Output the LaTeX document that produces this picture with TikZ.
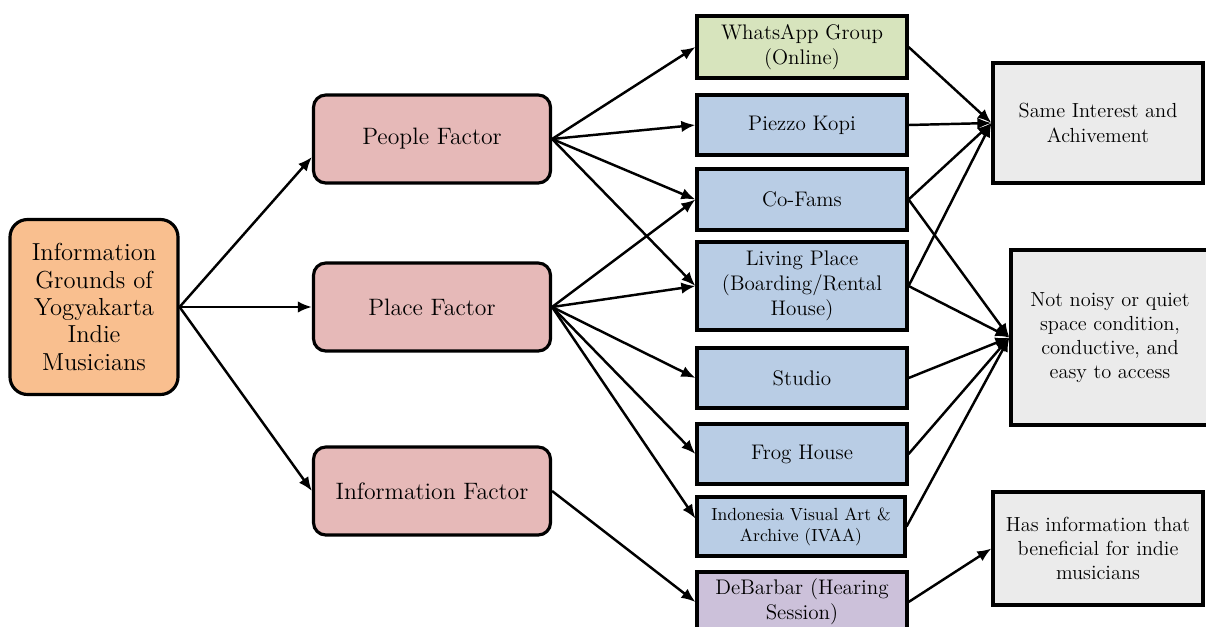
\documentclass[tikz,border=0pt]{standalone}
\usetikzlibrary{arrows.meta}

\definecolor{rootorange}{HTML}{F9BF8F}
\definecolor{factorpink}{HTML}{E6B9B8}
\definecolor{placeblue}{HTML}{B9CDE5}
\definecolor{onlinegreen}{HTML}{D7E4BD}
\definecolor{sessionpurple}{HTML}{CCC1DA}
\definecolor{resultgray}{HTML}{EBEBEB}

\tikzset{
  box/.style={draw, line width=1.8pt, align=center, inner sep=0pt},
  rootbox/.style={box, rounded corners=10pt, fill=rootorange, minimum width=3.36cm, minimum height=3.5cm, font=\fontsize{14}{15.6}\selectfont},
  factorbox/.style={box, rounded corners=7pt, fill=factorpink, minimum width=4.74cm, minimum height=1.76cm, font=\fontsize{13.5}{15.5}\selectfont},
  placebox/.style={box, fill=placeblue, minimum width=4.2cm, minimum height=1.2cm, font=\fontsize{12}{14.2}\selectfont},
  resultbox/.style={box, fill=resultgray, minimum width=4.2cm, font=\fontsize{11.6}{13.8}\selectfont},
  arr/.style={-{Latex[length=8pt,width=6.5pt]}, line width=1.4pt}
}

\begin{document}
\begin{tikzpicture}
    \useasboundingbox (0,0) rectangle (24.12,-12.52);

    % Define nodes
    \node[rootbox] (ig) at (1.88,-6.14) {Information\\Grounds of\\Yogyakarta\\Indie\\Musicians};

    \node[factorbox] (pf) at (8.64,-2.78) {People Factor};
    \node[factorbox] (plf) at (8.64,-6.14) {Place Factor};
    \node[factorbox] (if) at (8.64,-9.82) {Information Factor};

    \node[placebox, fill=onlinegreen, minimum height=1.24cm] (wa) at (16.04,-0.94) {WhatsApp Group\\(Online)};
    \node[placebox] (pk) at (16.04,-2.5) {Piezzo Kopi};
    \node[placebox, minimum height=1.22cm] (cf) at (16.04,-3.99) {Co-Fams};
    \node[placebox, minimum height=1.76cm] (lp) at (16.04,-5.72) {Living Place\\(Boarding/Rental\\House)};
    \node[placebox] (st) at (16.04,-7.56) {Studio};
    \node[placebox] (fh) at (16.04,-9.08) {Frog House};
    \node[placebox, minimum width=4.16cm, minimum height=1.18cm, font=\fontsize{10}{12}\selectfont] (iv) at (16.02,-10.53) {Indonesia Visual Art \&\\Archive (IVAA)};
    \node[placebox, fill=sessionpurple] (db) at (16.04,-12.04) {DeBarbar (Hearing\\Session)};

    \node[resultbox, minimum height=2.4cm] (si) at (21.96,-2.46) {Same Interest and\\Achivement};
    \node[resultbox, minimum width=3.96cm, minimum height=3.5cm] (nq) at (22.2,-6.75) {Not noisy or quiet\\space condition,\\conductive, and\\easy to access};
    \node[resultbox, minimum height=2.26cm] (hi) at (21.96,-10.97) {Has information that\\beneficial for indie\\musicians};

    % Draw arrows from root
    \draw[arr] (ig.east) -- ([yshift=-0.36cm]pf.west);
    \draw[arr] (ig.east) -- (plf.west);
    \draw[arr] (ig.east) -- (if.west);

    % Draw arrows from factors
    \foreach \t in {wa,pk,cf,lp}
        \draw[arr] (pf.east) -- (\t.west);
    \foreach \t in {cf,lp,st,fh}
        \draw[arr] (plf.east) -- (\t.west);
    \draw[arr] (plf.east) -- ([yshift=0.16cm]iv.west);
    \draw[arr] (if.east) -- (db.west);

    % Draw arrows to results
    \foreach \t in {wa,pk,cf,lp}
        \draw[arr] (\t.east) -- (si.west);
    \foreach \t in {cf,lp,st,fh,iv}
        \draw[arr] (\t.east) -- (nq.west);
    \draw[arr] (db.east) -- (hi.west);
\end{tikzpicture}
\end{document}
